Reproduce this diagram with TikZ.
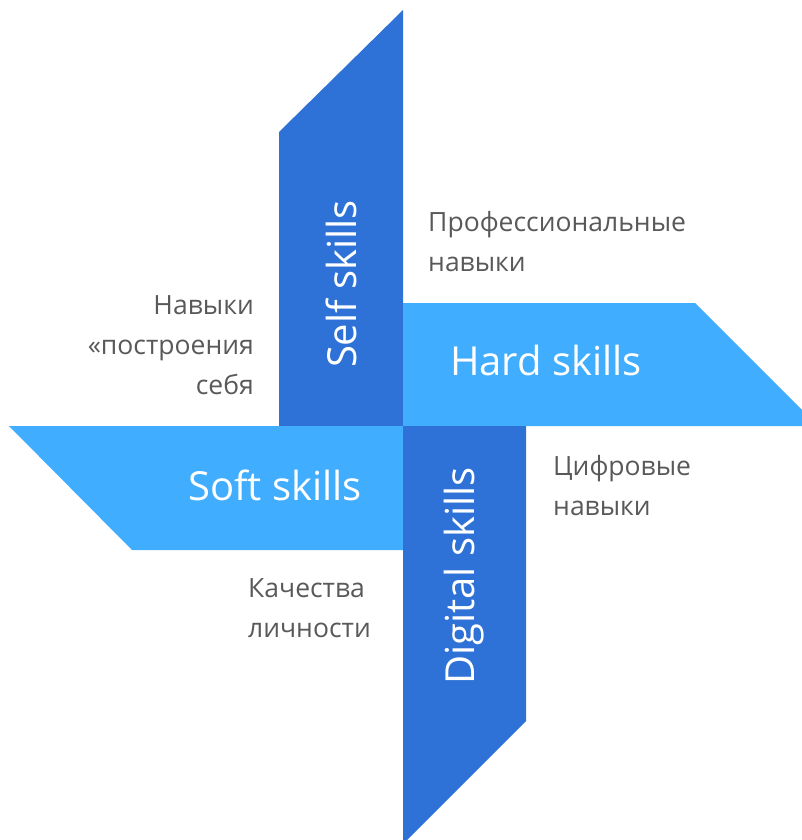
\documentclass[tikz,border=0pt]{standalone}
\usepackage{fontspec}
\setmainfont{Open Sans}
\definecolor{darkblue}{HTML}{2E72D7}
\definecolor{lightblue}{HTML}{41ADFF}
\definecolor{textgray}{HTML}{595959}

\begin{document}
\begin{tikzpicture}[x=1pt, y=-1pt,
    every node/.style={inner sep=0pt},
    skill/.style={text=white, font=\fontsize{40}{46}\selectfont},
    note/.style={text=textgray, font=\fontsize{26.5}{40}\selectfont}]
    % page size
    \useasboundingbox (0,0) rectangle (802,840);
    \begin{scope}
        \clip (0,0) rectangle (802,840);
        % blades
        \fill [darkblue] (279,132) -- (403,10) -- (403,426) -- (279,426) -- cycle;
        \fill [lightblue] (403,303) -- (695,303) -- (818,426) -- (403,426) -- cycle;
        \fill [lightblue] (9,426) -- (403,426) -- (403,550) -- (132,550) -- cycle;
        \fill [darkblue] (403,426) -- (526,426) -- (526,721) -- (403,844) -- cycle;
    \end{scope}
    % blade labels
    \node (self) [skill, rotate=90] at (341,284) {Self skills};
    \node (hard) [skill] at (546,360) {Hard skills};
    \node (soft) [skill] at (275,485) {Soft skills};
    \node (digital) [skill, rotate=90] at (464,576) {Digital skills};
    % notes
    \node (prof) [note, anchor=north west, align=left] at (428,211) {Профессиональные\\навыки};
    \node (build) [note, anchor=north east, align=right] at (254,295) {Навыки\\«построения\\себя};
    \node (digi) [note, anchor=north west, align=left] at (553,455) {Цифровые\\навыки};
    \node (pers) [note, anchor=north west, align=left] at (248,578) {Качества\\личности};
\end{tikzpicture}
\end{document}
